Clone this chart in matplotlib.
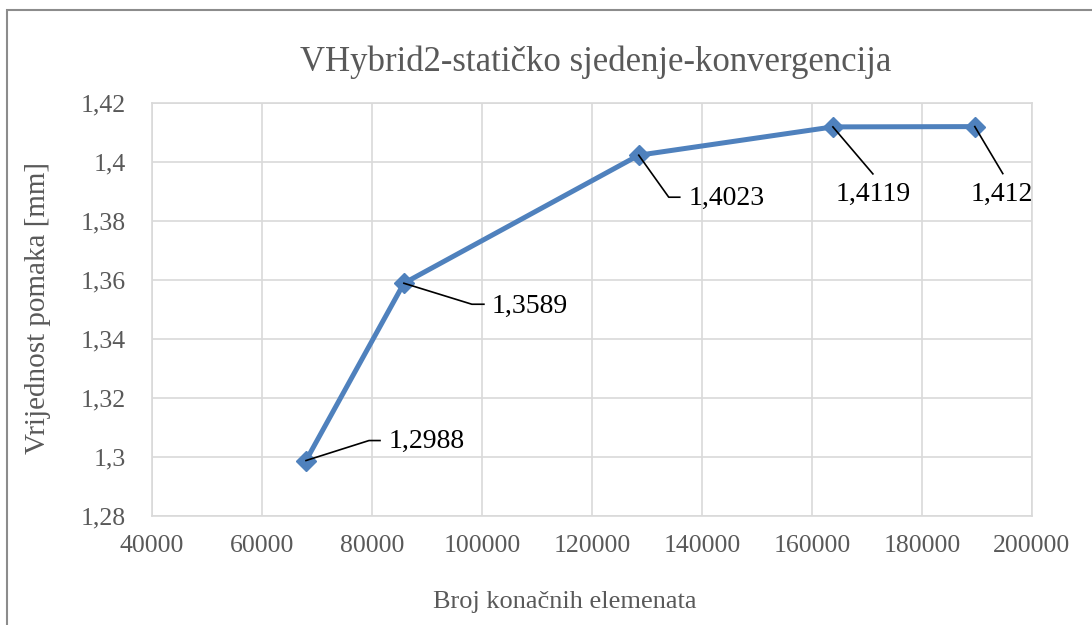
import matplotlib.pyplot as plt
from matplotlib.lines import Line2D
from matplotlib.patches import Rectangle
from matplotlib.ticker import FuncFormatter, MultipleLocator

# broj elemenata i pomak
elementi = [68000, 85800, 128500, 163800, 189600]
pomak = [1.2988, 1.3589, 1.4023, 1.4119, 1.412]
oznake = ["1,2988", "1,3589", "1,4023", "1,4119", "1,412"]

W, H = 1092, 625
fig = plt.figure(figsize=(W / 100, H / 100), dpi=100)
ax = fig.add_axes([152 / W, 1 - 516 / H, 880 / W, 413 / H])

serif = "Liberation Serif"
siva = "#595959"

ax.plot(elementi, pomak, color="#4f81bd", lw=3.6, marker="D", ms=10,
        solid_joinstyle="round", zorder=3)

ax.set_xlim(40000, 200000)
ax.set_ylim(1.28, 1.42)
ax.xaxis.set_major_locator(MultipleLocator(20000))
ax.yaxis.set_major_locator(MultipleLocator(0.02))
ax.yaxis.set_major_formatter(FuncFormatter(lambda v, p: f"{v:.2f}".rstrip("0").rstrip(",.").replace(".", ",")))
ax.grid(True, color="#d9d9d9", lw=1.2)
ax.set_axisbelow(True)
for s in ax.spines.values():
    s.set_color("#d9d9d9")
    s.set_linewidth(1.2)
ax.tick_params(length=0, labelsize=18.5, labelcolor=siva)
ax.tick_params(axis="y", pad=19)
ax.tick_params(axis="x", pad=14)
for t in ax.get_xticklabels() + ax.get_yticklabels():
    t.set_fontfamily(serif)

fig.text(596 / W, 1 - 62 / H, "VHybrid2-statičko sjedenje-konvergencija",
         ha="center", va="center", fontsize=25, color=siva, family=serif)
fig.text(565 / W, 1 - 602 / H, "Broj konačnih elemenata",
         ha="center", va="center", fontsize=19, color=siva, family=serif)
fig.text(38 / W, 1 - 308 / H, "Vrijednost pomaka [mm]", rotation=90,
         ha="center", va="center", fontsize=21, color=siva, family=serif)

# okvir grafikona
fig.add_artist(Rectangle((7 / W, -0.05), 1.2, 1 - 10 / H + 0.05,
                         transform=fig.transFigure, fill=False,
                         edgecolor="#8c8c8c", lw=1.5))

# oznake podataka s linijama (pomaci u pikselima)
linije = [
    [(0, 0), (63, 20), (74, 20)],
    [(0, 0), (68, -21), (80, -21)],
    [(0, 0), (30, -42), (41, -42)],
    [(0, 0), (40, -47)],
    [(0, 0), (28, -47)],
]
tekst = [(83, 19, "left"), (88, -23, "left"), (50, -43, "left"),
         (40, -68, "center"), (27, -68, "center")]

fig.canvas.draw()
for x, y, lab, lin, (tx, ty, ha) in zip(elementi, pomak, oznake, linije, tekst):
    px, py = ax.transData.transform((x, y))
    xs = [(px + dx) / W for dx, dy in lin]
    ys = [(py + dy) / H for dx, dy in lin]
    fig.add_artist(Line2D(xs, ys, color="black", lw=1.2, zorder=4))
    fig.text((px + tx) / W, (py + ty) / H, lab, ha=ha, va="center",
             fontsize=20, color="black", family=serif)

fig.savefig("out.png", dpi=100)
